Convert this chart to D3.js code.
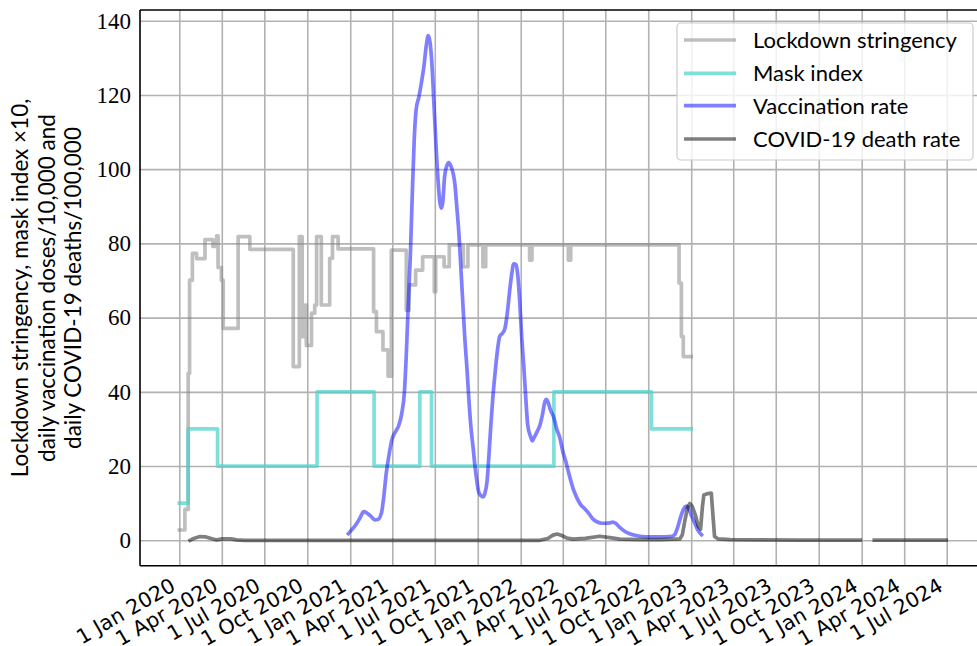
<!DOCTYPE html>
<html><head><meta charset="utf-8">
<script src="https://cdn.jsdelivr.net/npm/d3@7"></script>
<style>body{margin:0;background:#fff;} svg{display:block;}</style>
</head><body>
<svg id="c" width="977" height="646"></svg>
<script>
// ---------------- DATA ----------------
const yTicks = [0, 20, 40, 60, 80, 100, 120, 140];
const xTickDates = ["2020-01-01","2020-04-01","2020-07-01","2020-10-01","2021-01-01","2021-04-01","2021-07-01","2021-10-01","2022-01-01","2022-04-01","2022-07-01","2022-10-01","2023-01-01","2023-04-01","2023-07-01","2023-10-01","2024-01-01","2024-04-01","2024-07-01"];
const xTickLabels = ["1 Jan 2020","1 Apr 2020","1 Jul 2020","1 Oct 2020","1 Jan 2021","1 Apr 2021","1 Jul 2021","1 Oct 2021","1 Jan 2022","1 Apr 2022","1 Jul 2022","1 Oct 2022","1 Jan 2023","1 Apr 2023","1 Jul 2023","1 Oct 2023","1 Jan 2024","1 Apr 2024","1 Jul 2024"];
const yLabelLines = ["Lockdown stringency, mask index \u00d710,", "daily vaccination doses/10,000 and", "daily COVID-19 deaths/100,000"];
const seriesNames = ["Lockdown stringency", "Mask index", "Vaccination rate", "COVID-19 death rate"];

const lockdownDates = ["2020-01-01","2020-01-13","2020-01-20","2020-01-23","2020-01-29","2020-02-07","2020-02-25","2020-03-13","2020-03-21","2020-03-24","2020-03-31","2020-04-04","2020-05-06","2020-05-31","2020-09-01","2020-09-14","2020-09-20","2020-09-26","2020-09-29","2020-10-10","2020-10-17","2020-10-21","2020-10-31","2020-11-18","2020-11-24","2020-12-06","2021-02-20","2021-02-26","2021-03-12","2021-03-23","2021-03-30","2021-05-01","2021-05-07","2021-05-21","2021-06-05","2021-06-30","2021-07-03","2021-07-21","2021-08-01","2021-08-31","2021-09-10","2021-10-12","2021-10-18","2022-01-20","2022-01-25","2022-04-13","2022-04-18","2022-12-06","2022-12-11","2022-12-15","2023-01-01"];
const lockdownValues = [2.78,8.33,45,70.1,77.3,75.9,81.0,79.2,82.0,73.5,70.1,57.1,81.8,78.4,46.8,81.8,54.9,63.4,52.5,61.2,63.4,81.8,63.4,76.0,81.8,78.5,61.6,56.2,51.3,44.2,78.2,62.0,68.8,72.8,76.4,67.0,76.4,73.7,79.6,73.7,79.6,73.7,79.6,75.5,79.6,75.5,79.6,69.3,54.9,49.5,49.5];

const maskDates = ["2020-01-01","2020-01-20","2020-03-23","2020-10-22","2021-02-21","2021-05-30","2021-06-24","2022-03-13","2022-10-08","2023-01-01"];
const maskValues = [10,30,20,40,20,40,20,40,30,30];

const vaccDates = ["2020-12-28","2021-01-04","2021-01-13","2021-01-21","2021-01-30","2021-02-05","2021-02-14","2021-02-23","2021-03-01","2021-03-09","2021-03-14","2021-03-19","2021-03-25","2021-03-31","2021-04-09","2021-04-15","2021-04-21","2021-04-27","2021-05-01","2021-05-05","2021-05-10","2021-05-14","2021-05-18","2021-05-22","2021-05-28","2021-06-02","2021-06-08","2021-06-13","2021-06-17","2021-06-21","2021-06-25","2021-06-29","2021-07-03","2021-07-08","2021-07-12","2021-07-15","2021-07-18","2021-07-22","2021-07-27","2021-07-31","2021-08-04","2021-08-09","2021-08-13","2021-08-17","2021-08-22","2021-08-26","2021-08-30","2021-09-03","2021-09-08","2021-09-12","2021-09-16","2021-09-21","2021-09-25","2021-09-29","2021-10-03","2021-10-08","2021-10-12","2021-10-16","2021-10-21","2021-10-25","2021-10-29","2021-11-02","2021-11-07","2021-11-12","2021-11-17","2021-11-23","2021-11-28","2021-12-03","2021-12-09","2021-12-13","2021-12-17","2021-12-22","2021-12-26","2021-12-30","2022-01-03","2022-01-08","2022-01-12","2022-01-16","2022-01-22","2022-01-26","2022-01-29","2022-02-04","2022-02-11","2022-02-16","2022-02-22","2022-02-25","2022-03-01","2022-03-06","2022-03-13","2022-03-19","2022-03-26","2022-04-01","2022-04-08","2022-04-15","2022-04-23","2022-05-01","2022-05-10","2022-05-18","2022-05-27","2022-06-04","2022-06-13","2022-06-24","2022-07-02","2022-07-11","2022-07-17","2022-07-24","2022-08-01","2022-08-10","2022-08-18","2022-08-29","2022-09-13","2022-10-05","2022-10-26","2022-11-21","2022-11-27","2022-12-03","2022-12-10","2022-12-16","2022-12-21","2022-12-27","2023-01-02","2023-01-09","2023-01-15","2023-01-23"];
const vaccValues = [1.8,2.8,4.2,5.8,7.7,7.4,6.5,5.5,5.6,7.5,12,18,23,27,29.5,31,34,40,50,63,78,94,108,116,119.5,123,128,133.5,136,134,128,118,108,97,91,89.5,91,98,101,101.8,101,99,96,90,82,73,64,55,46,38,31,25,20,16,13,12,11.7,12.5,16,23,31,38,45,51,55,55.8,57,61,68,72,74.5,74.3,71,64,55,46,38,31,28,26.8,27.5,29,31,33.5,37.5,38,37,35,33,30,27.5,24,21,17.5,14,11.5,9.5,8.5,7.2,5.8,5.0,4.6,4.6,4.7,4.9,4.5,3.5,2.6,2.0,1.5,1.1,0.9,0.9,1.1,1.6,3.5,6.5,8.5,9.2,8.5,6.5,4.5,2.8,1.5];

const deathDates = ["2020-01-24","2020-02-01","2020-02-14","2020-02-27","2020-03-11","2020-03-21","2020-04-03","2020-04-20","2020-05-03","2020-05-20","2022-02-11","2022-02-28","2022-03-11","2022-03-20","2022-03-30","2022-04-10","2022-04-23","2022-05-19","2022-06-19","2022-07-11","2022-08-01","2022-09-13","2022-10-26","2022-11-27","2022-12-08","2022-12-13","2022-12-18","2022-12-24","2022-12-29","2023-01-03","2023-01-10","2023-01-16","2023-01-21","2023-01-25","2023-01-28","2023-02-06","2023-02-13","2023-02-17","2023-02-20","2023-02-27","2023-03-25","2023-05-28","2023-08-22","2023-12-29","2024-01-13","2024-01-28","2024-06-30"];
const deathValues = [0,0.5,1.0,0.9,0.4,0.1,0.4,0.4,0.1,0.0,0.0,0.5,1.4,1.7,1.3,0.6,0.3,0.5,1.1,0.7,0.3,0.2,0.2,0.3,0.4,1.5,5.0,8.8,9.9,9.2,6.8,3.8,3.0,9.0,12.2,12.6,12.7,6.0,1.0,0.4,0.2,0.1,0.05,0.05,null,0.05,0.05];

// ---------------- LAYOUT ----------------
const SANS = "Lato, 'DejaVu Sans', sans-serif";
const DATEFONT = "'DejaVu Sans', sans-serif";
const SERIF = "'Liberation Serif', 'DejaVu Serif', serif";
const L = 140, R = 985, T = 10, B = 565.7;
const parse = d3.utcParse("%Y-%m-%d");
const svg = d3.select("#c");

const x = d3.scaleUtc()
  .domain([parse("2020-01-01"), parse("2024-07-01")])
  .range([179.3, 946.7]);
const y = d3.scaleLinear().domain([0, 140]).range([540.3, 20.7]);

svg.append("defs").append("clipPath").attr("id", "clip")
  .append("rect").attr("x", L).attr("y", T).attr("width", R - L).attr("height", B - T);

// grid
const gridColor = "#b2b2b2";
svg.append("g").attr("transform", `translate(0,${B})`)
  .call(d3.axisBottom(x).tickValues(xTickDates.map(parse)).tickSize(-(B - T)).tickFormat(""))
  .call(g => { g.select(".domain").remove(); g.selectAll("line").attr("stroke", gridColor).attr("stroke-width", 1.6); });
svg.append("g").attr("transform", `translate(${L},0)`)
  .call(d3.axisLeft(y).tickValues(yTicks).tickSize(-(R - L)).tickFormat(""))
  .call(g => { g.select(".domain").remove(); g.selectAll("line").attr("stroke", gridColor).attr("stroke-width", 1.6); });

// series
const styles = [
  { color: "#808080", op: 0.5 },
  { color: "#48d1cc", op: 0.7 },
  { color: "#0000ff", op: 0.5 },
  { color: "#000000", op: 0.5 }
];
const LW = 3.7;
const plot = svg.append("g").attr("clip-path", "url(#clip)");
function mk(dates, vals) { return dates.map((d, i) => ({ d: parse(d), v: vals[i] })); }
function draw(data, curve, st) {
  const line = d3.line().defined(p => p.v !== null).x(p => x(p.d)).y(p => y(p.v)).curve(curve);
  plot.append("path").attr("d", line(data)).attr("fill", "none")
    .attr("stroke", st.color).attr("stroke-opacity", st.op).attr("stroke-width", LW)
    .attr("stroke-linecap", "square").attr("stroke-linejoin", "round");
}
draw(mk(lockdownDates, lockdownValues), d3.curveStepAfter, styles[0]);
draw(mk(maskDates, maskValues), d3.curveStepAfter, styles[1]);
draw(mk(vaccDates, vaccValues), d3.curveMonotoneX, styles[2]);
draw(mk(deathDates, deathValues), d3.curveLinear, styles[3]);

// spines
const sp = svg.append("g").attr("stroke", "#000").attr("stroke-width", 1.6);
sp.append("line").attr("x1", L).attr("x2", L).attr("y1", T).attr("y2", B);
sp.append("line").attr("x1", L).attr("x2", R).attr("y1", B).attr("y2", B);
sp.append("line").attr("x1", L).attr("x2", R).attr("y1", T).attr("y2", T);

// y axis labels
const yAx = svg.append("g").attr("transform", `translate(${L},0)`)
  .call(d3.axisLeft(y).tickValues(yTicks).tickSize(0).tickPadding(9));
yAx.select(".domain").remove();
yAx.selectAll("text").attr("font-family", SERIF).attr("font-size", 23).attr("fill", "#000");

// x axis labels
const xAx = svg.append("g").attr("transform", `translate(0,${B})`)
  .call(d3.axisBottom(x).tickValues(xTickDates.map(parse)).tickFormat((d, i) => xTickLabels[i]).tickSize(0));
xAx.select(".domain").remove();
xAx.selectAll("text").attr("font-family", DATEFONT).attr("font-size", 20.5).attr("fill", "#000")
  .attr("text-anchor", "end").attr("y", 0).attr("dy", 0)
  .attr("transform", "translate(-3,24) rotate(-30)");

// y label
const yl = svg.append("text").attr("transform", "translate(0,288) rotate(-90)")
  .attr("text-anchor", "middle").attr("font-family", SANS).attr("font-size", 22.5).attr("fill", "#000");
const ylBase = [28, 54.5, 81];
yLabelLines.forEach((t, i) => yl.append("tspan").attr("x", 0).attr("y", ylBase[i]).text(t));

// legend
const lg = svg.append("g");
lg.append("rect").attr("x", 677).attr("y", 23).attr("width", 296).attr("height", 137).attr("rx", 4)
  .attr("fill", "#fff").attr("fill-opacity", 0.8).attr("stroke", "#cccccc").attr("stroke-width", 1.2);
const legY = [40, 73.3, 105.7, 139];
seriesNames.forEach((n, i) => {
  lg.append("line").attr("x1", 684).attr("x2", 736).attr("y1", legY[i]).attr("y2", legY[i])
    .attr("stroke", styles[i].color).attr("stroke-opacity", styles[i].op).attr("stroke-width", LW);
  lg.append("text").attr("x", 753).attr("y", legY[i] + 8).attr("font-family", SANS).attr("font-size", 22)
    .attr("fill", "#000").text(n);
});
</script>
</body></html>
